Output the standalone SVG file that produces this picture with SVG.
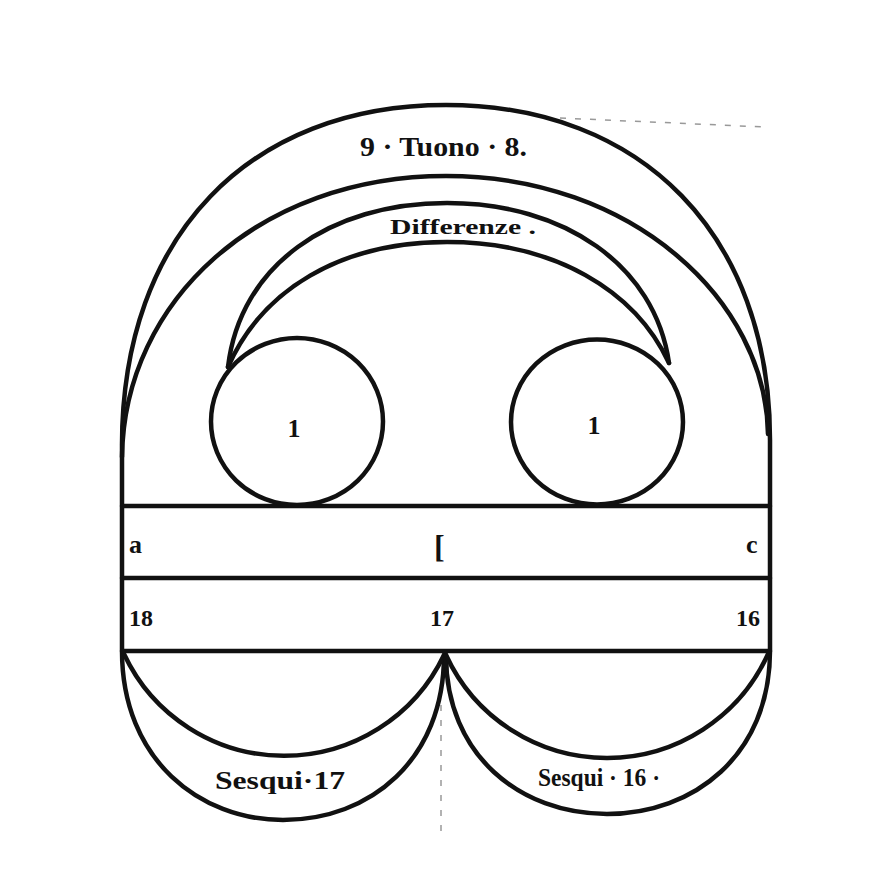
<svg xmlns="http://www.w3.org/2000/svg" width="882" height="889" viewBox="0 0 882 889">
  <style>
    .ln { fill: none; stroke: #111; stroke-width: 4.5; stroke-linecap: round; stroke-linejoin: round; }
    .faint { fill: none; stroke: #555; stroke-width: 1.5; stroke-dasharray: 6 9; opacity: 0.6; }
    .t { font-family: "Liberation Serif", "DejaVu Serif", serif; font-weight: bold; fill: #111; }
  </style>
  <rect width="882" height="889" fill="#fff"/>

  <g id="faint-lines">
    <path class="faint" d="M560,118 L765,127"/>
    <path class="faint" d="M441,690 L441,835"/>
  </g>

  <g id="connectors">
    <!-- outer arch: Tuono 9:8 -->
    <path id="arch-tuono" class="ln" d="M122,506 L122,445 C122,235 250,105 446,105 C642,105 770,235 770,440 L770,506"/>
    <!-- second arch -->
    <path id="arch-inner" class="ln" d="M122,457 C124,300 260,176 446,176 C632,176 766,300 768,434"/>
    <!-- Differenze crescent -->
    <path id="diff-outer" class="ln" d="M228,367 C240,265 330,203 447,203 C564,203 655,265 669,363"/>
    <path id="diff-inner" class="ln" d="M228,367 C262,290 340,242 447,242 C554,242 635,290 669,363"/>
    <!-- bottom lobes -->
    <path id="lobe-left-outer" class="ln" d="M122,651 C122,760 200,820 283,820 C370,820 444,760 444,655"/>
    <path id="lobe-left-inner" class="ln" d="M124,654 A177,177 0 0 0 444,655"/>
    <path id="lobe-right-outer" class="ln" d="M446,655 C446,755 520,814 607,814 C694,814 770,755 770,651"/>
    <path id="lobe-right-inner" class="ln" d="M446,655 A177,177 0 0 0 768,654"/>
  </g>

  <g id="band-top">
    <path class="ln" d="M122,506 L770,506 M122,506 L122,578 M770,506 L770,578"/>
    <text class="t" x="129" y="553" font-size="26">a</text>
    <text class="t" x="434" y="557" font-size="32">[</text>
    <text class="t" x="746" y="553" font-size="26">c</text>
  </g>

  <g id="band-bottom">
    <path class="ln" d="M122,578 L770,578 M122,578 L122,651 M770,578 L770,651 M122,651 L770,651"/>
    <text class="t" x="129" y="626" font-size="24">18</text>
    <text class="t" x="430" y="626" font-size="24">17</text>
    <text class="t" x="736" y="626" font-size="24">16</text>
  </g>

  <g id="circle-left">
    <ellipse class="ln" cx="297" cy="421.5" rx="86" ry="83.5"/>
    <text class="t" x="294" y="437" font-size="26" text-anchor="middle">1</text>
  </g>

  <g id="circle-right">
    <ellipse class="ln" cx="597" cy="422" rx="86" ry="82.5"/>
    <text class="t" x="594" y="434" font-size="26" text-anchor="middle">1</text>
  </g>

  <g id="label-tuono">
    <text class="t" x="360" y="156" font-size="28" textLength="167" lengthAdjust="spacingAndGlyphs">9 · Tuono · 8.</text>
  </g>

  <g id="label-differenze">
    <text class="t" x="390" y="234" font-size="22" textLength="146" lengthAdjust="spacingAndGlyphs">Differenze .</text>
  </g>

  <g id="label-sesqui17">
    <text class="t" x="215" y="789" font-size="25" textLength="130" lengthAdjust="spacingAndGlyphs">Sesqui·17</text>
  </g>

  <g id="label-sesqui16">
    <text class="t" x="538" y="786" font-size="25" textLength="122" lengthAdjust="spacingAndGlyphs">Sesqui · 16 ·</text>
  </g>
</svg>
